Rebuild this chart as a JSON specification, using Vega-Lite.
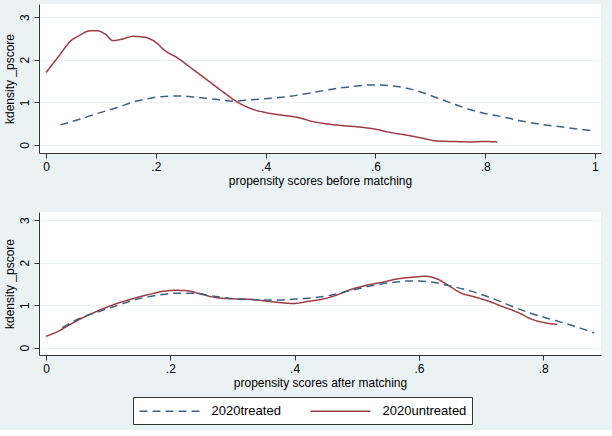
{
  "$schema": "https://vega.github.io/schema/vega-lite/v6.json",
  "background": "#EAF2F3",
  "padding": {"left": 3, "top": 4, "right": 11, "bottom": 5},
  "config": {
    "view": {"fill": "white", "stroke": null},
    "font": "Liberation Sans",
    "axis": {"labelFont": "Liberation Sans", "labelFontSize": 12, "labelColor": "#000", "titleFont": "Liberation Sans", "titleFontSize": 12, "titleFontWeight": "normal", "titleColor": "#000", "domainColor": "#333", "tickColor": "#333", "tickSize": 5, "gridColor": "#EAF2F3", "labelPadding": 3}
  },
  "datasets": {
    "d": [
      {"p": 1, "g": "2020untreated", "x": 0, "y": 1.70},
      {"p": 1, "g": "2020untreated", "x": 0.023, "y": 2.08},
      {"p": 1, "g": "2020untreated", "x": 0.044, "y": 2.43},
      {"p": 1, "g": "2020untreated", "x": 0.062, "y": 2.58},
      {"p": 1, "g": "2020untreated", "x": 0.080, "y": 2.68},
      {"p": 1, "g": "2020untreated", "x": 0.094, "y": 2.68},
      {"p": 1, "g": "2020untreated", "x": 0.108, "y": 2.60},
      {"p": 1, "g": "2020untreated", "x": 0.122, "y": 2.45},
      {"p": 1, "g": "2020untreated", "x": 0.137, "y": 2.48},
      {"p": 1, "g": "2020untreated", "x": 0.158, "y": 2.55},
      {"p": 1, "g": "2020untreated", "x": 0.179, "y": 2.53},
      {"p": 1, "g": "2020untreated", "x": 0.201, "y": 2.40},
      {"p": 1, "g": "2020untreated", "x": 0.215, "y": 2.23},
      {"p": 1, "g": "2020untreated", "x": 0.240, "y": 2.04},
      {"p": 1, "g": "2020untreated", "x": 0.265, "y": 1.80},
      {"p": 1, "g": "2020untreated", "x": 0.293, "y": 1.53},
      {"p": 1, "g": "2020untreated", "x": 0.322, "y": 1.25},
      {"p": 1, "g": "2020untreated", "x": 0.347, "y": 1.02},
      {"p": 1, "g": "2020untreated", "x": 0.372, "y": 0.86},
      {"p": 1, "g": "2020untreated", "x": 0.400, "y": 0.76},
      {"p": 1, "g": "2020untreated", "x": 0.429, "y": 0.70},
      {"p": 1, "g": "2020untreated", "x": 0.457, "y": 0.65},
      {"p": 1, "g": "2020untreated", "x": 0.486, "y": 0.55},
      {"p": 1, "g": "2020untreated", "x": 0.514, "y": 0.49},
      {"p": 1, "g": "2020untreated", "x": 0.543, "y": 0.45},
      {"p": 1, "g": "2020untreated", "x": 0.571, "y": 0.42},
      {"p": 1, "g": "2020untreated", "x": 0.600, "y": 0.37},
      {"p": 1, "g": "2020untreated", "x": 0.628, "y": 0.29},
      {"p": 1, "g": "2020untreated", "x": 0.657, "y": 0.23},
      {"p": 1, "g": "2020untreated", "x": 0.685, "y": 0.16},
      {"p": 1, "g": "2020untreated", "x": 0.714, "y": 0.09},
      {"p": 1, "g": "2020untreated", "x": 0.742, "y": 0.08},
      {"p": 1, "g": "2020untreated", "x": 0.771, "y": 0.07},
      {"p": 1, "g": "2020untreated", "x": 0.799, "y": 0.08},
      {"p": 1, "g": "2020untreated", "x": 0.822, "y": 0.07},
      {"p": 1, "g": "2020treated", "x": 0.026, "y": 0.47},
      {"p": 1, "g": "2020treated", "x": 0.058, "y": 0.59},
      {"p": 1, "g": "2020treated", "x": 0.094, "y": 0.74},
      {"p": 1, "g": "2020treated", "x": 0.130, "y": 0.88},
      {"p": 1, "g": "2020treated", "x": 0.165, "y": 1.03},
      {"p": 1, "g": "2020treated", "x": 0.187, "y": 1.09},
      {"p": 1, "g": "2020treated", "x": 0.215, "y": 1.14},
      {"p": 1, "g": "2020treated", "x": 0.244, "y": 1.15},
      {"p": 1, "g": "2020treated", "x": 0.272, "y": 1.12},
      {"p": 1, "g": "2020treated", "x": 0.308, "y": 1.07},
      {"p": 1, "g": "2020treated", "x": 0.343, "y": 1.03},
      {"p": 1, "g": "2020treated", "x": 0.372, "y": 1.06},
      {"p": 1, "g": "2020treated", "x": 0.415, "y": 1.10},
      {"p": 1, "g": "2020treated", "x": 0.443, "y": 1.14},
      {"p": 1, "g": "2020treated", "x": 0.486, "y": 1.23},
      {"p": 1, "g": "2020treated", "x": 0.521, "y": 1.31},
      {"p": 1, "g": "2020treated", "x": 0.557, "y": 1.37},
      {"p": 1, "g": "2020treated", "x": 0.593, "y": 1.41},
      {"p": 1, "g": "2020treated", "x": 0.628, "y": 1.39},
      {"p": 1, "g": "2020treated", "x": 0.664, "y": 1.31},
      {"p": 1, "g": "2020treated", "x": 0.699, "y": 1.17},
      {"p": 1, "g": "2020treated", "x": 0.728, "y": 1.03},
      {"p": 1, "g": "2020treated", "x": 0.756, "y": 0.90},
      {"p": 1, "g": "2020treated", "x": 0.792, "y": 0.76},
      {"p": 1, "g": "2020treated", "x": 0.828, "y": 0.67},
      {"p": 1, "g": "2020treated", "x": 0.863, "y": 0.57},
      {"p": 1, "g": "2020treated", "x": 0.899, "y": 0.49},
      {"p": 1, "g": "2020treated", "x": 0.934, "y": 0.43},
      {"p": 1, "g": "2020treated", "x": 0.970, "y": 0.37},
      {"p": 1, "g": "2020treated", "x": 1.0, "y": 0.33},
      {"p": 2, "g": "2020untreated", "x": 0, "y": 0.27},
      {"p": 2, "g": "2020untreated", "x": 0.020, "y": 0.39},
      {"p": 2, "g": "2020untreated", "x": 0.039, "y": 0.55},
      {"p": 2, "g": "2020untreated", "x": 0.064, "y": 0.74},
      {"p": 2, "g": "2020untreated", "x": 0.089, "y": 0.90},
      {"p": 2, "g": "2020untreated", "x": 0.114, "y": 1.04},
      {"p": 2, "g": "2020untreated", "x": 0.139, "y": 1.15},
      {"p": 2, "g": "2020untreated", "x": 0.165, "y": 1.25},
      {"p": 2, "g": "2020untreated", "x": 0.190, "y": 1.33},
      {"p": 2, "g": "2020untreated", "x": 0.208, "y": 1.35},
      {"p": 2, "g": "2020untreated", "x": 0.227, "y": 1.34},
      {"p": 2, "g": "2020untreated", "x": 0.252, "y": 1.25},
      {"p": 2, "g": "2020untreated", "x": 0.278, "y": 1.17},
      {"p": 2, "g": "2020untreated", "x": 0.303, "y": 1.15},
      {"p": 2, "g": "2020untreated", "x": 0.328, "y": 1.14},
      {"p": 2, "g": "2020untreated", "x": 0.353, "y": 1.10},
      {"p": 2, "g": "2020untreated", "x": 0.378, "y": 1.06},
      {"p": 2, "g": "2020untreated", "x": 0.397, "y": 1.04},
      {"p": 2, "g": "2020untreated", "x": 0.422, "y": 1.09},
      {"p": 2, "g": "2020untreated", "x": 0.447, "y": 1.15},
      {"p": 2, "g": "2020untreated", "x": 0.466, "y": 1.23},
      {"p": 2, "g": "2020untreated", "x": 0.491, "y": 1.37},
      {"p": 2, "g": "2020untreated", "x": 0.516, "y": 1.47},
      {"p": 2, "g": "2020untreated", "x": 0.541, "y": 1.54},
      {"p": 2, "g": "2020untreated", "x": 0.566, "y": 1.62},
      {"p": 2, "g": "2020untreated", "x": 0.592, "y": 1.66},
      {"p": 2, "g": "2020untreated", "x": 0.610, "y": 1.68},
      {"p": 2, "g": "2020untreated", "x": 0.629, "y": 1.62},
      {"p": 2, "g": "2020untreated", "x": 0.648, "y": 1.46},
      {"p": 2, "g": "2020untreated", "x": 0.667, "y": 1.29},
      {"p": 2, "g": "2020untreated", "x": 0.686, "y": 1.21},
      {"p": 2, "g": "2020untreated", "x": 0.711, "y": 1.10},
      {"p": 2, "g": "2020untreated", "x": 0.736, "y": 0.96},
      {"p": 2, "g": "2020untreated", "x": 0.761, "y": 0.82},
      {"p": 2, "g": "2020untreated", "x": 0.780, "y": 0.68},
      {"p": 2, "g": "2020untreated", "x": 0.802, "y": 0.59},
      {"p": 2, "g": "2020untreated", "x": 0.823, "y": 0.55},
      {"p": 2, "g": "2020treated", "x": 0.026, "y": 0.47},
      {"p": 2, "g": "2020treated", "x": 0.051, "y": 0.67},
      {"p": 2, "g": "2020treated", "x": 0.083, "y": 0.84},
      {"p": 2, "g": "2020treated", "x": 0.114, "y": 0.99},
      {"p": 2, "g": "2020treated", "x": 0.146, "y": 1.14},
      {"p": 2, "g": "2020treated", "x": 0.177, "y": 1.23},
      {"p": 2, "g": "2020treated", "x": 0.208, "y": 1.28},
      {"p": 2, "g": "2020treated", "x": 0.240, "y": 1.28},
      {"p": 2, "g": "2020treated", "x": 0.271, "y": 1.21},
      {"p": 2, "g": "2020treated", "x": 0.303, "y": 1.15},
      {"p": 2, "g": "2020treated", "x": 0.334, "y": 1.13},
      {"p": 2, "g": "2020treated", "x": 0.365, "y": 1.12},
      {"p": 2, "g": "2020treated", "x": 0.397, "y": 1.14},
      {"p": 2, "g": "2020treated", "x": 0.428, "y": 1.17},
      {"p": 2, "g": "2020treated", "x": 0.460, "y": 1.24},
      {"p": 2, "g": "2020treated", "x": 0.491, "y": 1.35},
      {"p": 2, "g": "2020treated", "x": 0.522, "y": 1.45},
      {"p": 2, "g": "2020treated", "x": 0.554, "y": 1.53},
      {"p": 2, "g": "2020treated", "x": 0.585, "y": 1.57},
      {"p": 2, "g": "2020treated", "x": 0.617, "y": 1.55},
      {"p": 2, "g": "2020treated", "x": 0.648, "y": 1.46},
      {"p": 2, "g": "2020treated", "x": 0.679, "y": 1.35},
      {"p": 2, "g": "2020treated", "x": 0.711, "y": 1.20},
      {"p": 2, "g": "2020treated", "x": 0.742, "y": 1.02},
      {"p": 2, "g": "2020treated", "x": 0.774, "y": 0.84},
      {"p": 2, "g": "2020treated", "x": 0.805, "y": 0.70},
      {"p": 2, "g": "2020treated", "x": 0.836, "y": 0.57},
      {"p": 2, "g": "2020treated", "x": 0.862, "y": 0.45},
      {"p": 2, "g": "2020treated", "x": 0.882, "y": 0.35}
    ]
  },
  "spacing": 26,
  "resolve": {"scale": {"x": "independent", "y": "independent"}},
  "vconcat": [
    {
      "width": 562,
      "height": 149,
      "data": {"name": "d"},
      "transform": [{"filter": "datum.p == 1"}],
      "mark": {"type": "line", "strokeWidth": 1.5, "interpolate": "monotone"},
      "encoding": {
        "x": {"field": "x", "type": "quantitative", "scale": {"domain": [-0.0128, 1.011], "nice": false, "zero": false},
          "axis": {"values": [0, 0.2, 0.4, 0.6, 0.8, 1], "title": "propensity scores before matching", "grid": false, "labelExpr": "replace(format(datum.value, '~g'), '0.', '.')", "titlePadding": 3}},
        "y": {"field": "y", "type": "quantitative", "scale": {"domain": [-0.19, 3.31], "nice": false, "zero": false},
          "axis": {"values": [0, 1, 2, 3], "grid": true, "labelAngle": 270, "title": "kdensity _pscore", "titlePadding": 2}},
        "color": {"field": "g", "type": "nominal", "scale": {"domain": ["2020treated", "2020untreated"], "range": ["#3B6286", "#9E3A40"]},
          "legend": {"orient": "none", "legendX": 94, "legendY": 393, "direction": "horizontal", "title": null, "strokeColor": "#333", "fillColor": "white", "padding": 5.5, "symbolType": "M-1,0H7", "symbolSize": 225, "symbolStrokeWidth": 1.5, "labelFontSize": 13, "labelOffset": 56, "columnPadding": 26, "labelFont": "Liberation Sans", "labelColor": "#000"}},
        "strokeDash": {"field": "g", "type": "nominal", "scale": {"domain": ["2020treated", "2020untreated"], "range": [[8, 5], [1, 0]]},
          "legend": {"orient": "none", "legendX": 94, "legendY": 393, "direction": "horizontal", "title": null, "strokeColor": "#333", "fillColor": "white", "padding": 5.5, "symbolType": "M-1,0H7", "symbolSize": 225, "symbolStrokeWidth": 1.5, "labelFontSize": 13, "labelOffset": 56, "columnPadding": 26, "labelFont": "Liberation Sans", "labelColor": "#000"}}
      }
    },
    {
      "width": 562,
      "height": 143,
      "data": {"name": "d"},
      "transform": [{"filter": "datum.p == 2"}],
      "mark": {"type": "line", "strokeWidth": 1.5, "interpolate": "monotone"},
      "encoding": {
        "x": {"field": "x", "type": "quantitative", "scale": {"domain": [-0.0113, 0.893], "nice": false, "zero": false},
          "axis": {"values": [0, 0.2, 0.4, 0.6, 0.8], "title": "propensity scores after matching", "grid": false, "labelExpr": "replace(format(datum.value, '~g'), '0.', '.')", "titlePadding": 3}},
        "y": {"field": "y", "type": "quantitative", "scale": {"domain": [-0.17, 3.19], "nice": false, "zero": false},
          "axis": {"values": [0, 1, 2, 3], "grid": true, "labelAngle": 270, "title": "kdensity _pscore", "titlePadding": 2}},
        "color": {"field": "g", "type": "nominal"},
        "strokeDash": {"field": "g", "type": "nominal"}
      }
    }
  ]
}
